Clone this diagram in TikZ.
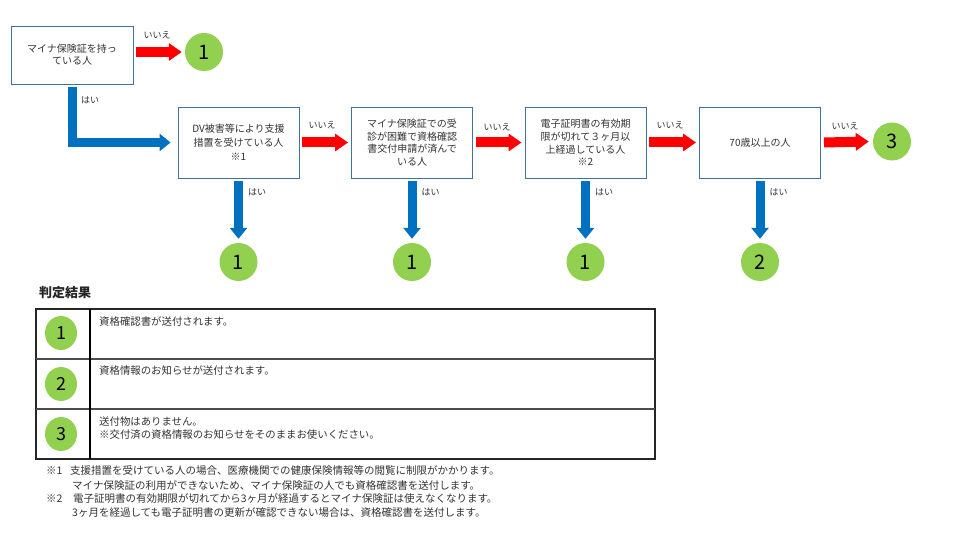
\documentclass[tikz,border=0pt]{standalone}
\usepackage{fontspec}
\setmainfont{Noto Sans CJK JP}
\usetikzlibrary{arrows.meta,calc,shapes.geometric}
\definecolor{boxblue}{HTML}{41719C}
\definecolor{arrred}{HTML}{FF0000}
\definecolor{arrblue}{HTML}{0070C0}
\definecolor{resgreen}{HTML}{92D050}
\definecolor{txt}{HTML}{333333}
\begin{document}
\begin{tikzpicture}[x=1pt,y=-1pt,
  qbox/.style={draw=boxblue, line width=0.9pt, minimum width=121pt, minimum height=71pt, align=center, text=txt, font=\fontsize{10}{12.7}\selectfont, inner sep=2pt},
  res/.style={circle, fill=resgreen, minimum size=38pt, inner sep=0pt, font=\fontsize{20}{20}\selectfont},
  tres/.style={ellipse, fill=resgreen, minimum width=32pt, minimum height=34pt, inner sep=0pt, font=\fontsize{18}{18}\selectfont},
  noarr/.style={draw=arrred, line width=10pt, -{Triangle[width=17pt,length=13pt]}},
  yesarr/.style={draw=arrblue, line width=9pt, -{Triangle[width=17pt,length=11pt]}},
  lbl/.style={font=\fontsize{9}{9}\selectfont, text=txt, inner sep=0pt},
  ttxt/.style={font=\fontsize{10.4}{13}\selectfont, text=txt, inner sep=0pt, anchor=west, align=left},
  fnote/.style={font=\fontsize{10.5}{12}\selectfont, text=txt, inner sep=0pt, anchor=west}
]
\useasboundingbox (0,0) rectangle (960,540);
\fill[white] (0,0) rectangle (960,540);

% first question
\node[qbox, minimum width=122pt, minimum height=58pt, font=\fontsize{10}{12}\selectfont] (b1) at (72,55) {マイナ保険証を持っ\\ている人};
\node[res] (c0) at (204,52) {1};
\draw[noarr] ($(b1.east|-c0.center)+(3,0)$) -- ($(c0.west)+(-3,0)$);
\node[lbl] (l0) at (157,35) {いいえ};

% row of questions
\node[qbox, font=\fontsize{10}{14}\selectfont] (b2) at (238.5,142.5) {DV被害等により支援\\措置を受けている人\\※1};
\node[qbox] (b3) at (412,142.5) {マイナ保険証での受\\診が困難で資格確認\\書交付申請が済んで\\いる人};
\node[qbox] (b4) at (585.5,142.5) {電子証明書の有効期\\限が切れて３ヶ月以\\上経過している人\\※2};
\node[qbox] (b5) at (760,142.5) {70歳以上の人};
\node[res] (c3) at (892,141.5) {3};

\draw[yesarr] ($(b1.south)+(0,3)$) |- ($(b2.west)+(-7,0)$);
\node[lbl] (y0) at (90,100) {はい};

\draw[noarr] ($(b2.east)+(3,0)$) -- ($(b3.west)+(-3,0)$);
\draw[noarr] ($(b3.east)+(3,0)$) -- ($(b4.west)+(-3,0)$);
\draw[noarr] ($(b4.east)+(3,0)$) -- ($(b5.west)+(-3,0)$);
\draw[noarr] ($(b5.east)+(3,0)$) -- ($(c3.west)+(-4,0)$);
\node[lbl] (l1) at (322,125) {いいえ};
\node[lbl] (l2) at (497,127) {いいえ};
\node[lbl] (l3) at (670,125) {いいえ};
\node[lbl] (l4) at (845,126) {いいえ};

% yes results
\node[res] (r2) at (238.5,262) {1};
\node[res] (r3) at (412,262) {1};
\node[res] (r4) at (585.5,262) {1};
\node[res] (r5) at (760,262) {2};
\foreach \b/\r in {b2/r2,b3/r3,b4/r4,b5/r5}{
  \draw[yesarr] ($(\b.south)+(0,3)$) -- ($(\r.north)+(0,-4)$);
}
\node[lbl] (y2) at (257,192) {はい};
\node[lbl] (y3) at (430.5,192) {はい};
\node[lbl] (y4) at (604,192) {はい};
\node[lbl] (y5) at (778.5,192) {はい};

% result table
\node[font=\fontsize{13}{13}\selectfont\bfseries, text=black!85, inner sep=0pt] (title) at (65,293) {判定結果};
\draw[line width=1.1pt, draw=black!85] (36,309) rectangle (655,459);
\draw[line width=1.1pt, draw=black!70] (36,359) -- (655,359);
\draw[line width=1.1pt, draw=black!70] (36,409) -- (655,409);
\draw[line width=1.1pt, draw=black] (90,309) -- (90,459);
\node[tres] (t1) at (61,333) {1};
\node[tres] (t2) at (61,384) {2};
\node[tres] (t3) at (61,434) {3};
\node[ttxt] (tx1) at (99,322) {資格確認書が送付されます。};
\node[ttxt] (tx2) at (99,371) {資格情報のお知らせが送付されます。};
\node[ttxt] (tx3) at (99,428.5) {送付物はありません。\\※交付済の資格情報のお知らせをそのままお使いください。};

% footnotes
\node[fnote] (f1m) at (46,470.5) {※1};
\node[fnote] (f1a) at (70,470.5) {支援措置を受けている人の場合、医療機関での健康保険情報等の閲覧に制限がかかります。};
\node[fnote] (f1b) at (72,485) {マイナ保険証の利用ができないため、マイナ保険証の人でも資格確認書を送付します。};
\node[fnote] (f2m) at (46,499) {※2};
\node[fnote] (f2a) at (73,499) {電子証明書の有効期限が切れてから3ヶ月が経過するとマイナ保険証は使えなくなります。};
\node[fnote] (f2b) at (72,513) {3ヶ月を経過しても電子証明書の更新が確認できない場合は、資格確認書を送付します。};
\end{tikzpicture}
\end{document}
